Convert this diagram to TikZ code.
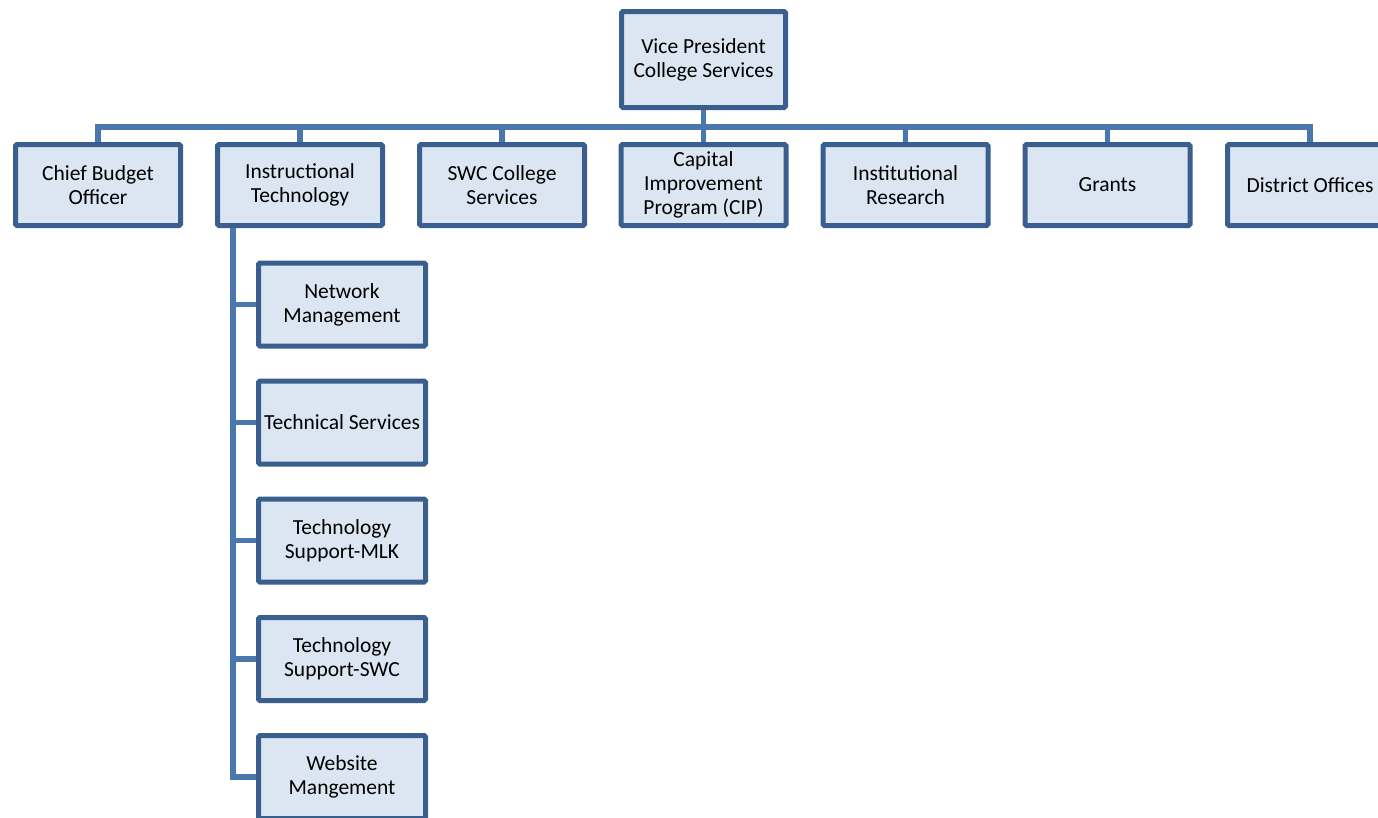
\documentclass[tikz,border=0pt]{standalone}
\usepackage{fontspec}
\setmainfont{Carlito}
\definecolor{boxborder}{HTML}{3A5F8E}
\definecolor{boxfill}{HTML}{DCE6F2}
\definecolor{linkcol}{HTML}{4A78AE}
\begin{document}
\begin{tikzpicture}[x=1pt,y=-1pt,
  orgbox/.style={draw=boxborder, fill=boxfill, line width=5pt, rounded corners=1.5pt,
    minimum width=165pt, minimum height=81pt, inner sep=0pt, align=center,
    font=\fontsize{21.5}{24}\selectfont},
  subbox/.style={orgbox, minimum width=167pt, minimum height=83pt},
  link/.style={draw=linkcol, line width=5.5pt}]
\useasboundingbox (0,0) rectangle (1378,817);
\clip (0,0) rectangle (1378,817);
% top
\node[orgbox, minimum height=96pt, minimum width=164pt] (vp) at (703.5,59.5) {Vice President\\College Services};
% second row
\node[orgbox] (cbo) at (98,185) {Chief Budget\\Officer};
\node[orgbox] (it)  at (300,185) {Instructional\\Technology};
\node[orgbox] (swc) at (502,185) {SWC College\\Services};
\node[orgbox] (cip) at (703.5,185) {Capital\\Improvement\\Program (CIP)};
\node[orgbox] (ir)  at (905.5,185) {Institutional\\Research};
\node[orgbox] (gr)  at (1107.5,185) {Grants};
\node[orgbox] (do)  at (1310,185) {District Offices};
% sub row
\node[subbox] (nm)  at (342,304.5) {Network\\Management};
\node[subbox] (ts)  at (342,422.5) {Technical Services};
\node[subbox] (mlk) at (342,540.5) {Technology\\Support-MLK};
\node[subbox] (tsw) at (342,659) {Technology\\Support-SWC};
\node[subbox] (wm)  at (342,777) {Website\\Mangement};
% connectors
\coordinate (bus) at (703.5,127);
\begin{scope}[on background layer/.try]
\path[link] (vp.south) -- (bus);
\foreach \c in {cbo,it,swc,cip,ir,gr,do}{
  \path[link] (bus) -| (\c.north);
}
\coordinate (trunk) at (233,228);
\foreach \c in {nm,ts,mlk,tsw,wm}{
  \path[link] (trunk) |- (\c.west);
}
\end{scope}
\end{tikzpicture}
\end{document}
